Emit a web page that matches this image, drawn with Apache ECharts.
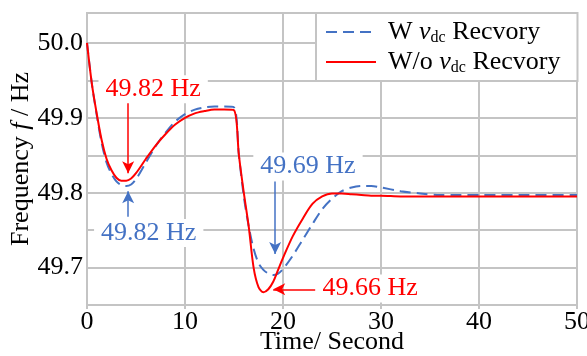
<!DOCTYPE html>
<html lang="en">
<head>
    <meta charset="UTF-8">
    <title>Frequency</title>
    <script src="https://cdn.jsdelivr.net/npm/echarts@6/dist/echarts.min.js"></script>
    <style type="text/css">
        html, body { margin: 0; padding: 0; background: #fff; }
        #chartData { width: 587px; height: 356px; }
    </style>
</head>
<body>
<div id="chartData"></div>
<script type="text/javascript">
    // time in seconds
    var timeList = [0, 0.5, 1, 1.5, 2, 2.5, 3, 3.5, 4, 4.5, 5, 6, 7, 8, 9, 10, 11, 12, 13, 14, 15,
        15.5, 16, 16.5, 17, 17.5, 18, 18.5, 19, 19.5, 20, 21, 22, 23, 24, 25, 26, 27, 28, 29, 30,
        32, 34, 36, 38, 40, 45, 50];
    // W vdc Recvory (blue dashed)
    var withRecovery = [50.0, 49.945, 49.903, 49.866, 49.840, 49.825, 49.815, 49.810, 49.809, 49.811, 49.818,
        49.840, 49.862, 49.880, 49.895, 49.905, 49.911, 49.914, 49.915, 49.915, 49.914,
        49.850, 49.795, 49.755, 49.725, 49.706, 49.697, 49.692, 49.690, 49.692, 49.698,
        49.716, 49.737, 49.758, 49.778, 49.792, 49.802, 49.807, 49.809, 49.809, 49.807,
        49.802, 49.799, 49.797, 49.797, 49.797, 49.797, 49.797];
    // W/o vdc Recvory (red solid)
    var withoutRecovery = [50.0, 49.945, 49.905, 49.870, 49.845, 49.830, 49.820, 49.816, 49.816, 49.819, 49.826,
        49.845, 49.863, 49.878, 49.891, 49.900, 49.906, 49.909, 49.911, 49.911, 49.910,
        49.850, 49.800, 49.755, 49.700, 49.674, 49.667, 49.671, 49.681, 49.697, 49.713,
        49.742, 49.765, 49.785, 49.795, 49.799, 49.799, 49.798, 49.797, 49.796, 49.796,
        49.795, 49.795, 49.795, 49.795, 49.795, 49.795, 49.795];
    var seriesNames = ['W vdc Recvory', 'W/o vdc Recvory'];
    var xTicks = [0, 10, 20, 30, 40, 50];

    var blue = '#4472c4', red = '#ff0000', gridColor = '#c4c4c4';
    var fontFamily = 'Liberation Serif';
    var serif = {
        a: {fontFamily: fontFamily, fontSize: 26},
        i: {fontFamily: fontFamily, fontSize: 26, fontStyle: 'italic'}
    };

    function pairs(xs, ys) {
        var out = [];
        for (var i = 0; i < xs.length; i++) {
            out.push([xs[i], ys[i]]);
        }
        return out;
    }

    function note(t, v, text, color) {
        return {
            coord: [t, v],
            symbol: 'rect',
            symbolSize: 1,
            itemStyle: {color: 'rgba(0,0,0,0)'},
            label: {
                show: true,
                position: 'inside',
                formatter: '{a|' + text + '}',
                color: color,
                fontSize: 26,
                fontFamily: fontFamily,
                backgroundColor: '#fff',
                padding: [1, 7],
                rich: serif
            }
        };
    }

    function arrow(t0, v0, t1, v1) {
        return [
            {coord: [t0, v0], symbol: 'none'},
            {coord: [t1, v1], symbol: 'arrow', symbolSize: [9, 12]}
        ];
    }

    var myChart = echarts.init(document.getElementById('chartData'));

    var option = {
        animation: false,
        textStyle: {fontFamily: fontFamily},
        grid: {
            left: 87, right: 10, top: 13, bottom: 51,
            outerBoundsMode: 'none',
            containLabel: false,
            show: true,
            borderColor: gridColor,
            borderWidth: 2
        },
        legend: {
            orient: 'vertical',
            left: 316,
            top: 13,
            padding: [6, 17, 4, 9],
            itemGap: 2,
            itemWidth: 50,
            itemHeight: 14,
            itemStyle: {opacity: 0},
            backgroundColor: '#fff',
            borderColor: gridColor,
            borderWidth: 2,
            borderRadius: 0,
            data: seriesNames,
            formatter: function (name) {
                if (name == seriesNames[0]) {
                    return '{a|W }{i|v}{s|dc}{a| Recvory}';
                }
                return '{a|W/o }{i|v}{s|dc}{a| Recvory}';
            },
            textStyle: {
                fontFamily: fontFamily,
                fontSize: 26,
                color: '#000',
                padding: [0, 0, 0, 7],
                rich: {
                    a: {fontFamily: fontFamily, fontSize: 26, lineHeight: 30, verticalAlign: 'middle'},
                    i: {fontFamily: fontFamily, fontSize: 26, fontStyle: 'italic', lineHeight: 30, verticalAlign: 'middle'},
                    s: {fontFamily: fontFamily, fontSize: 16, lineHeight: 30, verticalAlign: 'bottom', padding: [0, 0, 1, 0]}
                }
            }
        },
        xAxis: {
            type: 'value',
            min: 0,
            max: 50,
            interval: 10,
            name: '{a|Time/ Second}',
            nameLocation: 'middle',
            nameGap: 24,
            nameMoveOverlap: false,
            nameTextStyle: {fontFamily: fontFamily, fontSize: 26, color: '#000', rich: serif},
            axisLine: {lineStyle: {color: gridColor, width: 2}},
            axisTick: {show: true, length: 4, lineStyle: {color: gridColor, width: 2}},
            axisLabel: {
                fontFamily: fontFamily, fontSize: 26, color: '#000', margin: 4,
                rich: serif,
                formatter: function (v) {
                    return xTicks.indexOf(v) >= 0 ? '{a|' + v + '}' : '';
                }
            },
            splitLine: {show: true, lineStyle: {color: gridColor, width: 2}}
        },
        yAxis: {
            type: 'value',
            min: 49.65,
            max: 50.04,
            interval: 0.05,
            name: '{a|Frequency }{i|f}{a| / Hz}',
            nameLocation: 'middle',
            nameGap: 53,
            nameMoveOverlap: false,
            nameTextStyle: {fontFamily: fontFamily, fontSize: 26, color: '#000', rich: serif},
            axisLine: {show: true, lineStyle: {color: gridColor, width: 2}},
            axisTick: {show: false},
            axisLabel: {
                fontFamily: fontFamily, fontSize: 26, color: '#000', margin: 4,
                rich: serif,
                formatter: function (v) {
                    var k = v * 10;
                    if (Math.abs(k - Math.round(k)) < 1e-6) {
                        return '{a|' + v.toFixed(1) + '}';
                    }
                    return '';
                }
            },
            splitLine: {show: true, lineStyle: {color: gridColor, width: 2}}
        },
        series: [
            {
                name: seriesNames[0],
                type: 'line',
                smooth: 0.3,
                symbol: 'none',
                z: 3,
                lineStyle: {color: blue, width: 2, type: [11, 6]},
                itemStyle: {color: blue},
                data: pairs(timeList, withRecovery),
                markLine: {
                    silent: true,
                    lineStyle: {color: blue, width: 1.5, type: 'solid'},
                    label: {show: false},
                    data: [
                        arrow(4.2, 49.768, 4.2, 49.802),
                        arrow(19.2, 49.815, 19.2, 49.718)
                    ]
                },
                markPoint: {
                    silent: true,
                    data: [
                        note(6.3, 49.746, '49.82 Hz', blue),
                        note(22.55, 49.835, '49.69 Hz', blue)
                    ]
                }
            },
            {
                name: seriesNames[1],
                type: 'line',
                smooth: 0.3,
                symbol: 'none',
                z: 4,
                lineStyle: {color: red, width: 2},
                itemStyle: {color: red},
                data: pairs(timeList, withoutRecovery),
                markLine: {
                    silent: true,
                    lineStyle: {color: red, width: 1.5, type: 'solid'},
                    label: {show: false},
                    data: [
                        arrow(4.2, 49.922, 4.2, 49.826),
                        arrow(23.3, 49.671, 19.0, 49.671)
                    ]
                },
                markPoint: {
                    silent: true,
                    data: [
                        note(6.75, 49.938, '49.82 Hz', red),
                        note(28.9, 49.672, '49.66 Hz', red)
                    ]
                }
            }
        ]
    };

    myChart.setOption(option);
</script>
</body>
</html>
